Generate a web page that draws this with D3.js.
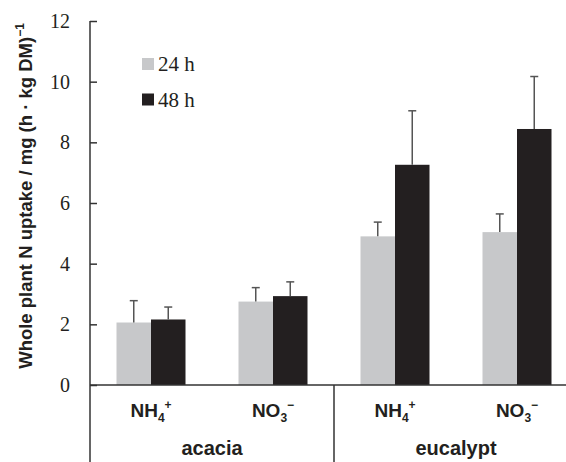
<!DOCTYPE html>
<html>
<head>
<meta charset="utf-8">
<script src="https://cdn.jsdelivr.net/npm/d3@7"></script>
<style>
  html, body { margin: 0; padding: 0; background: #fff; }
  svg { display: block; }
</style>
</head>
<body>
<div class="chart"></div>
<script>
const WIDTH = 566;
const HEIGHT = 462;

// data
const groups = ["acacia", "eucalypt"];
const ions = ["NH4+", "NO3-"];
const categories = ["acacia|NH4+", "acacia|NO3-", "eucalypt|NH4+", "eucalypt|NO3-"];
const seriesNames = ["24 h", "48 h"];
const means24 = [2.06, 2.75, 4.90, 5.04];
const means48 = [2.16, 2.93, 7.26, 8.44];
const err24 = [0.72, 0.46, 0.47, 0.60];
const err48 = [0.41, 0.47, 1.78, 1.73];
const yTicks = [0, 2, 4, 6, 8, 10, 12];

const COLORS = { "24 h": "#c7c8ca", "48 h": "#231f20" };
const AXIS_COLOR = "#333";
const LEFT = 90;
const BASE_Y = 385;
const TOP_Y = 21;
const BAR_W = 34.5;

const rows = [];
categories.forEach((c, i) => {
  rows.push({ cat: c, series: "24 h", value: means24[i], err: err24[i] });
  rows.push({ cat: c, series: "48 h", value: means48[i], err: err48[i] });
});

const svg = d3.create("svg").attr("width", WIDTH).attr("height", HEIGHT);

const x = d3.scaleBand().domain(categories).range([LEFT, LEFT + 4 * 122]).padding(0);
const bw = x.bandwidth();
const xInner = d3.scaleBand().domain(seriesNames).range([bw / 2 - BAR_W, bw / 2 + BAR_W]);
const y = d3.scaleLinear().domain([0, 12]).range([BASE_Y, TOP_Y]);

// y axis (ticks point inward)
const yAxis = d3.axisLeft(y).tickValues(yTicks).tickSizeInner(-7).tickSizeOuter(0).tickPadding(20);
const gy = svg.append("g").attr("transform", `translate(${LEFT},0)`).call(yAxis);
gy.select(".domain").remove();
gy.selectAll(".tick line").attr("stroke", AXIS_COLOR).attr("stroke-width", 1.5);
gy.selectAll(".tick text")
  .attr("font-family", "'Liberation Serif', 'Times New Roman', serif")
  .attr("font-size", 20)
  .attr("fill", "#231f20");

svg.append("line")
  .attr("x1", LEFT).attr("x2", LEFT)
  .attr("y1", y(12)).attr("y2", HEIGHT)
  .attr("stroke", AXIS_COLOR).attr("stroke-width", 1.5);

// bars
svg.append("g")
  .selectAll("rect")
  .data(rows)
  .join("rect")
  .attr("x", d => x(d.cat) + xInner(d.series))
  .attr("width", xInner.bandwidth())
  .attr("y", d => y(d.value))
  .attr("height", d => y(0) - y(d.value))
  .attr("fill", d => COLORS[d.series]);

// error bars
const eb = svg.append("g").attr("stroke", "#555").attr("stroke-width", 1.5);
eb.selectAll("line.v")
  .data(rows)
  .join("line")
  .attr("class", "v")
  .attr("x1", d => x(d.cat) + xInner(d.series) + xInner.bandwidth() / 2)
  .attr("x2", d => x(d.cat) + xInner(d.series) + xInner.bandwidth() / 2)
  .attr("y1", d => y(d.value))
  .attr("y2", d => y(d.value + d.err));
eb.selectAll("line.cap")
  .data(rows)
  .join("line")
  .attr("class", "cap")
  .attr("x1", d => x(d.cat) + xInner(d.series) + xInner.bandwidth() / 2 - 4)
  .attr("x2", d => x(d.cat) + xInner(d.series) + xInner.bandwidth() / 2 + 4)
  .attr("y1", d => y(d.value + d.err))
  .attr("y2", d => y(d.value + d.err));

// baseline
svg.append("line")
  .attr("x1", LEFT).attr("x2", WIDTH)
  .attr("y1", y(0)).attr("y2", y(0))
  .attr("stroke", AXIS_COLOR).attr("stroke-width", 1.5);

// group separator
svg.append("line")
  .attr("x1", x(categories[2])).attr("x2", x(categories[2]))
  .attr("y1", y(0)).attr("y2", HEIGHT)
  .attr("stroke", AXIS_COLOR).attr("stroke-width", 1.5);

// ion labels
const ionLabel = svg.append("g")
  .attr("font-family", "'Liberation Sans', Arial, sans-serif")
  .attr("font-weight", "bold")
  .attr("fill", "#231f20");
categories.forEach(c => {
  const ion = c.split("|")[1];
  const t = ionLabel.append("text")
    .attr("x", x(c) + bw / 2)
    .attr("y", 417)
    .attr("text-anchor", "middle")
    .attr("font-size", 19);
  t.append("tspan").text(ion.slice(0, 2));
  t.append("tspan").attr("font-size", 12).attr("dy", 5).text(ion[2]);
  t.append("tspan").attr("font-size", 12).attr("dy", -13).text(ion[3] === "-" ? "\u2212" : "+");
});

// group labels
groups.forEach((g, i) => {
  const start = x(categories[i * 2]);
  const end = x(categories[i * 2 + 1]) + bw;
  ionLabel.append("text")
    .attr("x", (start + end) / 2)
    .attr("y", 455)
    .attr("text-anchor", "middle")
    .attr("font-size", 20)
    .text(g);
});

// legend
const legend = svg.append("g")
  .selectAll("g")
  .data(seriesNames)
  .join("g")
  .attr("transform", (d, i) => `translate(142,${58 + i * 35.5})`);
legend.append("rect").attr("width", 12).attr("height", 12).attr("fill", d => COLORS[d]);
legend.append("text")
  .attr("x", 16).attr("y", 13)
  .attr("font-family", "'Liberation Serif', 'Times New Roman', serif")
  .attr("font-size", 21)
  .attr("fill", "#231f20")
  .text(d => d);

// y title
const title = svg.append("text")
  .attr("transform", "translate(31.5,196) rotate(-90)")
  .attr("text-anchor", "middle")
  .attr("font-family", "'Liberation Sans', Arial, sans-serif")
  .attr("font-weight", "bold")
  .attr("font-size", 18.5)
  .attr("fill", "#231f20");
title.append("tspan").text("Whole plant N uptake / mg (h \u00b7 kg DM)");
title.append("tspan").attr("font-size", 12).attr("dy", -8).text("\u22121");

document.querySelector(".chart").append(svg.node());
</script>
</body>
</html>
